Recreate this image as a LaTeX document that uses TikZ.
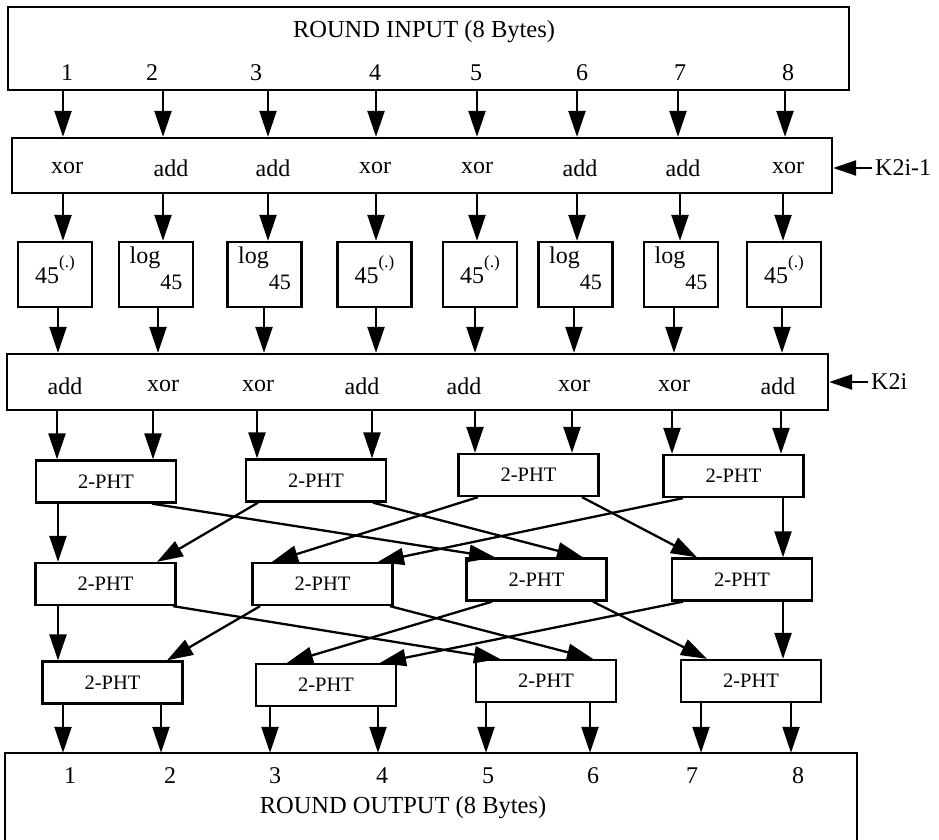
\documentclass[tikz,border=0pt]{standalone}
\usepackage{fontspec}
\setmainfont{Liberation Serif}
\usetikzlibrary{arrows.meta}
\begin{document}
\begin{tikzpicture}[x=1pt,y=-1pt,
  bx/.style={draw,line width=2.3pt,inner sep=0pt},
  phtbox/.style={bx,minimum width=140pt,minimum height=42pt,font=\fontsize{20.5}{20.5}\selectfont},
  fbox/.style={bx,minimum width=74pt,minimum height=65pt},
  lbl/.style={inner sep=0pt,font=\fontsize{24}{24}\selectfont},
  arr/.style={line width=2.3pt,-{Triangle[length=26pt,width=17pt]}},
  karr/.style={line width=2.3pt,-{Triangle[length=23pt,width=15pt]}}]
\useasboundingbox (0,0) rectangle (939,840);
% ---------- input box ----------
\node[bx,minimum width=841pt,minimum height=83pt] (in) at (428.5,48.5) {};
\node[lbl,font=\fontsize{24.5}{24.5}\selectfont] (tin) at (424,32) {ROUND INPUT (8 Bytes)};
\foreach \n/\x in {1/67,2/152,3/256,4/375,5/476,6/582,7/680,8/788}
  \node[lbl] (n\n) at (\x,73) {\n};
% ---------- first key layer ----------
\node[bx,minimum width=820pt,minimum height=55pt] (xa) at (422,165.5) {};
\foreach \t/\x [count=\i] in {xor/67,add/171,add/273,xor/375,xor/477,add/580,add/683,xor/788}
  \node[lbl] (ta\i) at (\x,168) {\t};
\node[lbl,anchor=west,inner sep=3pt] (k1) at (872,168) {K2i-1};
\draw[karr] (k1.west) -- (xa.east |- k1.west);
\foreach \x in {63,163,268,376,477,577,678,785}
  \draw[arr] (in.south -| \x,0) -- (xa.north -| \x,0);
% ---------- exp / log boxes ----------
\foreach \x [count=\i] in {55,156,264.5,374.5,480,575.5,681,784}
  \node[fbox] (b\i) at (\x,274.5) {};
\foreach \i in {1,4,5,8}
  \node[lbl,anchor=base] (e\i) at ([yshift=-8.5pt]b\i.center) {45\raisebox{16pt}{\fontsize{17}{17}\selectfont(.)}};
\foreach \i in {2,3,6,7}
  \node[lbl,anchor=base] (l\i) at ([yshift=11.5pt]b\i.center) {log\raisebox{-26pt}{\fontsize{22}{22}\selectfont 45}};
\foreach \x/\i in {63/1,163/2,268/3,376/4,477/5,577/6,680/7,783/8}
  \draw[arr] (xa.south -| \x,0) -- (b\i.north -| \x,0);
% ---------- second key layer ----------
\node[bx,minimum width=821pt,minimum height=56pt] (xb) at (417.5,382) {};
\foreach \t/\x [count=\i] in {add/65,xor/163,xor/258,add/362,add/464,xor/574,xor/674,add/778}
  \node[lbl] (tb\i) at (\x,386) {\t};
\node[lbl,anchor=west,inner sep=3pt] (k2) at (868,382) {K2i};
\draw[karr] (k2.west) -- (xb.east |- k2.west);
\foreach \x/\i in {58/1,158/2,264/3,376/4,475/5,574/6,674/7,782/8}
  \draw[arr] (b\i.south -| \x,0) -- (xb.north -| \x,0);
% ---------- PHT layers ----------
\node[phtbox] (p11) at (106,481.5) {2-PHT};
\node[phtbox] (p12) at (316,480.5) {2-PHT};
\node[phtbox] (p13) at (528.5,475) {2-PHT};
\node[phtbox] (p14) at (733.5,476) {2-PHT};
\node[phtbox] (p21) at (105.5,584) {2-PHT};
\node[phtbox] (p22) at (322.5,584) {2-PHT};
\node[phtbox] (p23) at (536.5,579.5) {2-PHT};
\node[phtbox] (p24) at (742,579.5) {2-PHT};
\node[phtbox] (p31) at (112.5,682.5) {2-PHT};
\node[phtbox] (p32) at (326,685) {2-PHT};
\node[phtbox] (p33) at (546,681) {2-PHT};
\node[phtbox] (p34) at (751,681) {2-PHT};
% add box -> PHT row 1
\draw[arr] (xb.south -| 57,0) -- (p11.north -| 57,0);
\draw[arr] (xb.south -| 153,0) -- (p11.north -| 153,0);
\draw[arr] (xb.south -| 257,0) -- (p12.north -| 257,0);
\draw[arr] (xb.south -| 372,0) -- (p12.north -| 372,0);
\draw[arr] (xb.south -| 475,0) -- (p13.north -| 475,0);
\draw[arr] (xb.south -| 572,0) -- (p13.north -| 572,0);
\draw[arr] (xb.south -| 672,0) -- (p14.north -| 672,0);
\draw[arr] (xb.south -| 781,0) -- (p14.north -| 781,0);
% row 1 -> row 2
\draw[arr] (p11.south -| 58,0) -- (p21.north -| 58,0);
\draw[arr] (p11.south -| 152,0) -- (p23.north -| 495,0);
\draw[arr] (p12.south -| 258,0) -- (p21.north -| 157,0);
\draw[arr] (p12.south -| 373,0) -- (p23.north -| 583,0);
\draw[arr] (p13.south -| 478,0) -- (p22.north -| 272,0);
\draw[arr] (p13.south -| 582,0) -- (p24.north -| 697,0);
\draw[arr] (p14.south -| 683,0) -- (p22.north -| 378,0);
\draw[arr] (p14.south -| 783,0) -- (p24.north -| 783,0);
% row 2 -> row 3
\draw[arr] (p21.south -| 58,0) -- (p31.north -| 58,0);
\draw[arr] (p21.south -| 173,0) -- (p33.north -| 500,0);
\draw[arr] (p22.south -| 260,0) -- (p31.north -| 167,0);
\draw[arr] (p22.south -| 390,0) -- (p33.north -| 593,0);
\draw[arr] (p23.south -| 492,0) -- (p32.north -| 287,0);
\draw[arr] (p23.south -| 593,0) -- (p34.north -| 707,0);
\draw[arr] (p24.south -| 683,0) -- (p32.north -| 380,0);
\draw[arr] (p24.south -| 783,0) -- (p34.north -| 783,0);
% ---------- output box ----------
\node[inner sep=0pt,minimum width=852pt,minimum height=87pt] (out) at (431,796.5) {};
\draw[line width=2.3pt] (out.south west) -- (out.north west) -- (out.north east) -- (out.south east);
\foreach \n/\x in {1/70,2/170,3/275,4/382,5/488,6/593,7/692,8/798}
  \node[lbl] (m\n) at (\x,776) {\n};
\node[lbl,font=\fontsize{24.5}{24.5}\selectfont] (tout) at (403,808) {ROUND OUTPUT (8 Bytes)};
\draw[arr] (p31.south -| 63,0) -- (out.north -| 63,0);
\draw[arr] (p31.south -| 161,0) -- (out.north -| 161,0);
\draw[arr] (p32.south -| 270,0) -- (out.north -| 270,0);
\draw[arr] (p32.south -| 378,0) -- (out.north -| 378,0);
\draw[arr] (p33.south -| 486,0) -- (out.north -| 486,0);
\draw[arr] (p33.south -| 590,0) -- (out.north -| 590,0);
\draw[arr] (p34.south -| 701,0) -- (out.north -| 701,0);
\draw[arr] (p34.south -| 791,0) -- (out.north -| 791,0);
\end{tikzpicture}
\end{document}
